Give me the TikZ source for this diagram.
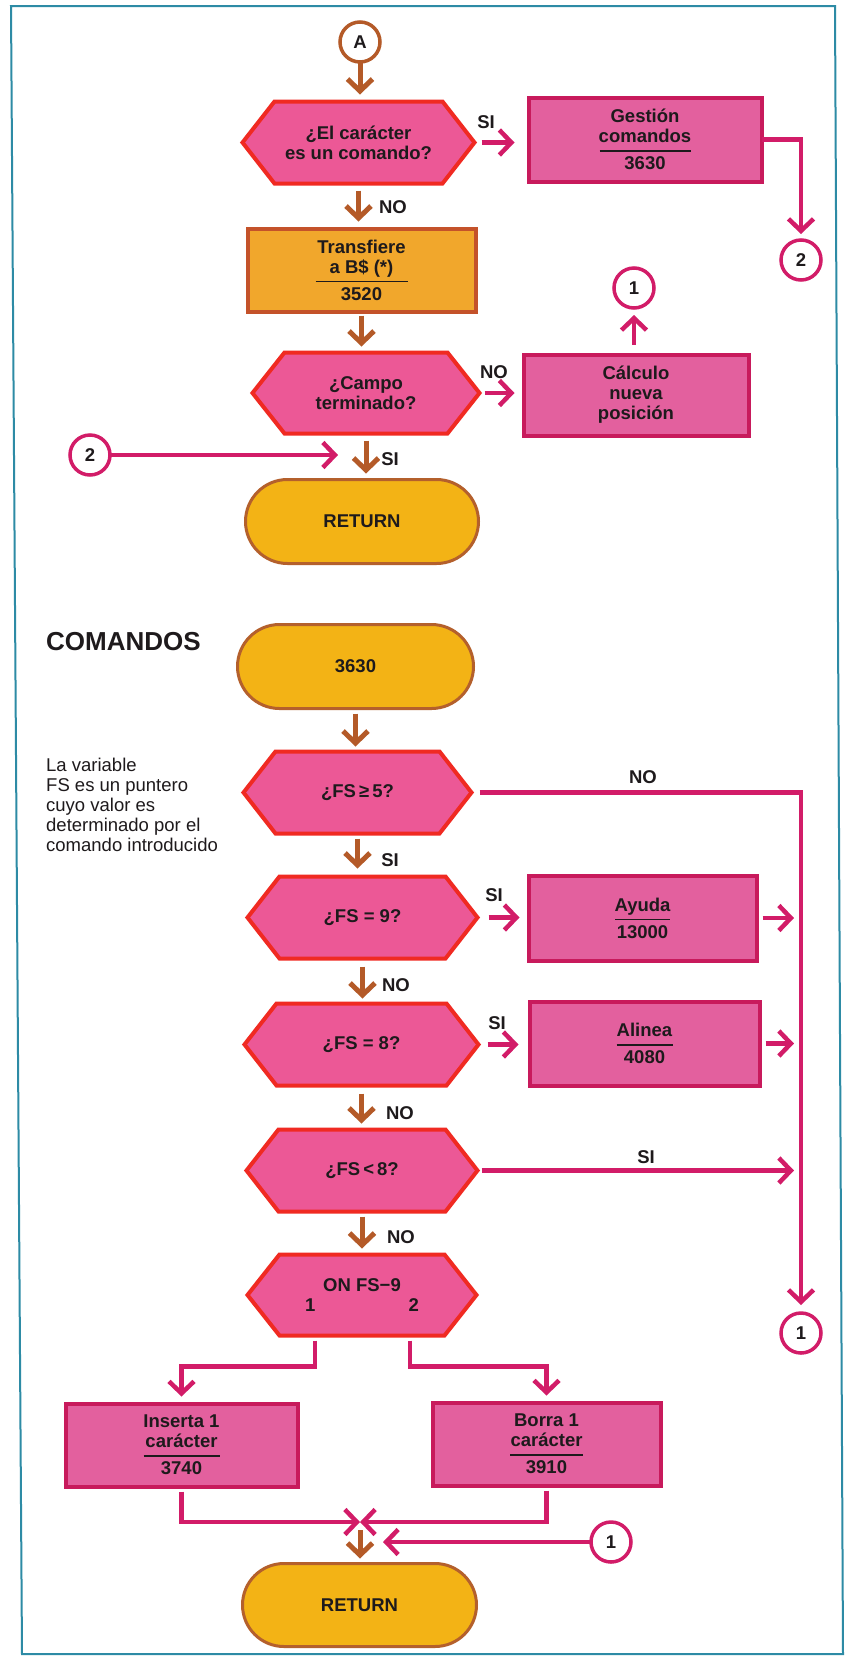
\documentclass[tikz,border=0pt]{standalone}
\usepackage{fontspec}
\setmainfont{Liberation Sans}
\usetikzlibrary{arrows.meta,shapes.misc,calc}
\pgfdeclarelayer{bg}
\pgfsetlayers{bg,main}

\definecolor{hexfill}{HTML}{EC5896}
\definecolor{hexline}{HTML}{F02A22}
\definecolor{boxfill}{HTML}{E3609E}
\definecolor{boxline}{HTML}{C81A5C}
\definecolor{termfill}{HTML}{F3B315}
\definecolor{termline}{HTML}{B4602C}
\definecolor{procfill}{HTML}{F1A72C}
\definecolor{procline}{HTML}{C4522A}
\definecolor{flowbrown}{HTML}{B45A28}
\definecolor{flowmag}{HTML}{D21C68}
\definecolor{framecol}{HTML}{2D8BA5}
\definecolor{ink}{HTML}{1E1A1C}

\newcommand\flowfont{\fontsize{18.5}{20}\selectfont\bfseries}
% divider rule between the title lines and the line number of a box
\newcommand\hsep[1]{\\[-11pt]\rule{#1pt}{1.6pt}\\[-2pt]}
% decision hexagon: name, x, y, width, height, text
\newcommand\hexbox[6]{%
  \node[hexnode, minimum width=#4pt, minimum height=#5pt] (#1) at (#2,#3) {#6};
  \begin{pgfonlayer}{bg}
    \draw[hexshape] (#1.west) -- ([xshift=32pt]#1.north west)
      -- ([xshift=-32pt]#1.north east) -- (#1.east)
      -- ([xshift=-32pt]#1.south east) -- ([xshift=32pt]#1.south west) -- cycle;
  \end{pgfonlayer}}

\tikzset{
  hexnode/.style={rectangle, inner sep=0pt, outer sep=0pt, align=center,
    font=\flowfont, text=ink},
  hexshape/.style={fill=hexfill, draw=hexline, line width=4pt, line join=miter},
  boxnode/.style={rectangle, draw=boxline, fill=boxfill, line width=4pt,
    inner sep=0pt, outer sep=0pt, align=center, font=\flowfont, text=ink},
  procnode/.style={boxnode, draw=procline, fill=procfill},
  termnode/.style={rounded rectangle, draw=termline, fill=termfill, line width=3pt,
    inner sep=0pt, outer sep=0pt, align=center, font=\flowfont, text=ink},
  conn/.style={circle, draw=flowmag, fill=white, line width=3.5pt, minimum size=40pt,
    inner sep=0pt, outer sep=0pt, font=\flowfont, text=ink},
  flowlbl/.style={font=\flowfont, text=ink, inner sep=0pt},
  tipb/.style={-{Straight Barb[length=12pt,width=25pt]}},
  brarrow/.style={draw=flowbrown, line width=5pt, tipb, shorten <=6pt, shorten >=6pt},
  mgarrow/.style={draw=flowmag, line width=4.5pt, tipb},
  mgline/.style={draw=flowmag, line width=4.5pt},
}

\begin{document}
\begin{tikzpicture}[x=1pt, y=-1pt]
  \useasboundingbox (0,0) rectangle (856,1658);
  \begin{pgfonlayer}{bg}
    \fill[white] (0,0) rectangle (856,1658);
  \end{pgfonlayer}
  \draw[framecol, line width=2pt] (11,6) -- (835,6) -- (843,1654) -- (22,1654) -- cycle;

  % ---------- input routine ----------
  \node[conn, draw=flowbrown] (A) at (360,42) {A};
  \hexbox{h1}{358.5}{142.5}{232}{82}{¿El carácter\\es un comando?}
  \node[boxnode, minimum width=233pt, minimum height=84pt] (gest) at (645,139.5)
    {Gestión\\comandos\hsep{91}3630};
  \node[conn] (c2a) at (801,260) {2};
  \node[procnode, minimum width=228pt, minimum height=83pt] (trans) at (361.5,270)
    {Transfiere\\a B\$ (*)\hsep{92}3520};
  \node[conn] (c1a) at (634,288) {1};
  \hexbox{h2}{366}{393}{227}{81}{¿Campo\\terminado?}
  \node[boxnode, minimum width=225pt, minimum height=81pt] (calc) at (636,395)
    {Cálculo\\nueva\\posición};
  \node[conn] (c2b) at (90,455) {2};
  \coordinate (m2) at (338,455);
  \node[termnode, minimum width=233pt, minimum height=84pt] (ret1) at (362,521.5) {RETURN};

  \draw[brarrow, shorten <=1pt, shorten >=7pt] (A.south) -- (A.south |- h1.north);
  \draw[brarrow, shorten <=7pt, shorten >=7pt] (h1.south) -- (h1.south |- trans.north);
  \draw[brarrow, shorten <=4pt, shorten >=6pt] (trans.south) -- (trans.south |- h2.north);
  \draw[brarrow, shorten <=7pt, shorten >=6pt] (h2.south) -- (h2.south |- ret1.north);
  \node[flowlbl] (lno1) at (393,207) {NO};
  \node[flowlbl] (lsi1) at (390,459) {SI};

  \draw[mgarrow, shorten <=7pt, shorten >=14pt] (h1.east) -- (h1.east -| gest.west);
  \node[flowlbl] (lsi2) at (486,122) {SI};
  \draw[mgarrow, shorten >=6pt] (gest.east) -| (c2a.north);
  \draw[mgarrow, shorten <=5pt, shorten >=9pt] (h2.east) -- (h2.east -| calc.west);
  \node[flowlbl] (lno2) at (494,372) {NO};
  \draw[mgarrow, shorten <=10pt, shorten >=7pt] (calc.north -| c1a) -- (c1a.south);
  \draw[mgarrow] (c2b.east) -- (m2);

  % ---------- command handler ----------
  \node[flowlbl, anchor=west, font=\fontsize{26}{28}\selectfont\bfseries] (cmd) at (46,642) {COMANDOS};
  \node[termnode, minimum width=236pt, minimum height=84pt] (t3630) at (355.5,666.5) {3630};
  \node[anchor=west, align=left, inner sep=0pt, text=ink,
    font=\fontsize{18.5}{20}\selectfont] (note) at (46,805)
    {La variable\\FS es un puntero\\cuyo valor es\\determinado por el\\comando introducido};

  \hexbox{h3}{357.5}{792.5}{228}{82}{¿FS\,≥\,5?}
  \hexbox{h4}{362.5}{917.5}{230}{82}{¿FS = 9?}
  \node[boxnode, minimum width=228pt, minimum height=85pt] (ayuda) at (642.5,918)
    {Ayuda\hsep{55}13000};
  \hexbox{h5}{361.5}{1044.5}{234}{82}{¿FS = 8?}
  \node[boxnode, minimum width=230pt, minimum height=84pt] (alinea) at (644.5,1043.5)
    {Alinea\hsep{56}4080};
  \hexbox{h6}{362}{1170.5}{231}{82}{¿FS\,<\,8?}
  \hexbox{h7}{362}{1295}{229}{81}{ON FS−9\\1\hspace{93pt}2}
  \node[conn] (c1b) at (801,1333) {1};
  \node[boxnode, minimum width=232pt, minimum height=83pt] (ins) at (181.5,1445)
    {Inserta 1\\carácter\hsep{76}3740};
  \node[boxnode, minimum width=228pt, minimum height=83pt] (borra) at (546.5,1444)
    {Borra 1\\carácter\hsep{73}3910};
  \coordinate (join) at (360,1522);
  \node[conn] (c1c) at (611,1542) {1};
  \coordinate (m1) at (383,1542);
  \node[termnode, minimum width=234pt, minimum height=83pt] (ret2) at (359.5,1605) {RETURN};

  \draw[brarrow, shorten <=5pt, shorten >=5pt] (t3630.south) -- (t3630.south |- h3.north);
  \draw[brarrow, shorten <=5pt, shorten >=8pt] (h3.south) -- (h3.south |- h4.north);
  \draw[brarrow, shorten <=8pt, shorten >=5pt] (h4.south) -- (h4.south |- h5.north);
  \draw[brarrow, shorten <=8pt, shorten >=6pt] (h5.south) -- (h5.south |- h6.north);
  \draw[brarrow, shorten <=5pt, shorten >=6pt] (h6.south) -- (h6.south |- h7.north);
  \draw[brarrow, shorten <=8pt, shorten >=5pt] (join) -- (join |- ret2.north);
  \node[flowlbl] (lsi3) at (390,860) {SI};
  \node[flowlbl] (lno3) at (396,985) {NO};
  \node[flowlbl] (lno4) at (400,1113) {NO};
  \node[flowlbl] (lno5) at (401,1237) {NO};

  \draw[mgarrow, shorten <=8pt, shorten >=8pt] (h3.east) -- (h3.east -| c1b) -- (c1b.north);
  \node[flowlbl] (lno6) at (643,777) {NO};
  \draw[mgarrow, shorten <=11pt, shorten >=9pt] (h4.east) -- (h4.east -| ayuda.west);
  \node[flowlbl] (lsi4) at (494,895) {SI};
  \draw[mgarrow, shorten <=6pt, shorten >=7pt] (ayuda.east) -- (ayuda.east -| c1b);
  \draw[mgarrow, shorten <=9pt, shorten >=11pt] (h5.east) -- (h5.east -| alinea.west);
  \node[flowlbl] (lsi5) at (497,1023) {SI};
  \draw[mgarrow, shorten <=6pt, shorten >=7pt] (alinea.east) -- (alinea.east -| c1b);
  \draw[mgarrow, shorten <=4pt, shorten >=7pt] (h6.east) -- (h6.east -| c1b);
  \node[flowlbl] (lsi6) at (646,1157) {SI};

  \draw[mgarrow, shorten <=5pt, shorten >=7pt] ([xshift=-47pt]h7.south) -- ++(0,31) -| (ins.north);
  \draw[mgarrow, shorten <=5pt, shorten >=7pt] ([xshift=48pt]h7.south) -- ++(0,31) -| (borra.north);
  \draw[mgarrow, shorten <=5pt] (ins.south) |- (join);
  \draw[mgarrow, shorten <=5pt] (borra.south) |- (join);
  \draw[mgarrow] (c1c.west) -- (m1);
\end{tikzpicture}
\end{document}
